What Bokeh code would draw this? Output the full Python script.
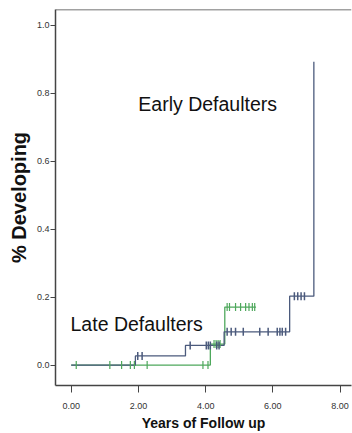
import numpy as np
from bokeh.plotting import figure
from bokeh.models import Span, Label, Title, FixedTicker, Range1d
from bokeh.embed import file_html
from bokeh.resources import INLINE

# Early defaulters (blue) step curve
blue_times = [0.0, 1.91, 3.40, 4.55, 6.50, 7.22]
blue_levels = [0.0, 0.027, 0.058, 0.098, 0.203, 0.893]
blue_censor = [1.98, 2.11, 3.54, 4.02, 4.08, 4.14, 4.33, 4.40,
               4.64, 4.76, 4.89, 5.12, 5.61, 5.86, 6.13, 6.21, 6.28, 6.38,
               6.64, 6.74, 6.84, 6.94]

# Late defaulters (green) step curve
green_times = [0.0, 4.14, 4.57, 5.50]
green_levels = [0.0, 0.062, 0.171, 0.171]
green_censor = [0.15, 1.15, 1.50, 1.76, 1.88, 2.26, 3.92, 4.07,
                4.25, 4.31, 4.37, 4.43,
                4.64, 4.71, 4.89, 5.04, 5.19, 5.29, 5.39, 5.46]

x_ticks = [0, 2, 4, 6, 8]
x_tick_labels = ["0.00", "2.00", "4.00", "6.00", "8.00"]
y_ticks = [0.0, 0.2, 0.4, 0.6, 0.8, 1.0]
y_tick_labels = ["0.0", "0.2", "0.4", "0.6", "0.8", "1.0"]

BLUE = "#4b5a7c"
GREEN = "#4ea85c"
FONT = "Liberation Sans"


def level_at(times, levels, t):
    idx = np.searchsorted(np.array(times), t, side="right") - 1
    return [levels[i] for i in idx]


p = figure(width=352, height=433, output_backend="svg", toolbar_location=None,
           x_range=Range1d(-0.467, 8.34), y_range=Range1d(-0.060, 1.047),
           min_border_left=55, min_border_right=1, min_border_top=9,
           min_border_bottom=45)
p.outline_line_color = None
p.grid.visible = False
p.background_fill_color = "white"
p.border_fill_color = "white"

p.step(green_times, green_levels, mode="after", line_color=GREEN, line_width=1.3)
p.step(blue_times, blue_levels, mode="after", line_color=BLUE, line_width=1.3)

p.scatter(green_censor, level_at(green_times, green_levels, green_censor),
          marker="dash", angle=np.pi / 2, size=8, line_color=GREEN, line_width=1.2)
p.scatter(blue_censor, level_at(blue_times, blue_levels, blue_censor),
          marker="dash", angle=np.pi / 2, size=8, line_color=BLUE, line_width=1.5)

p.add_layout(Span(location=1.047, dimension="width", line_color="#444444", line_width=1.5))

p.add_layout(Label(x=4.06, y=0.77, text="Early Defaulters", text_align="center",
                   text_baseline="middle", text_font=FONT, text_font_size="19.5px",
                   text_color="#111111"))
p.add_layout(Label(x=-0.02, y=0.121, text="Late Defaulters", text_align="left",
                   text_baseline="middle", text_font=FONT, text_font_size="19.5px",
                   text_color="#111111"))

# y-axis title, as a side title so it can sit slightly above the frame centre
p.add_layout(Title(text="% Developing", align="center", offset=36, standoff=7,
                   text_font=FONT, text_font_size="20px", text_font_style="bold",
                   text_color="#111111"), "left")

for ax in (p.xaxis[0], p.yaxis[0]):
    ax.axis_line_color = "#444444"
    ax.axis_line_width = 1.5
    ax.major_tick_line_color = "#444444"
    ax.minor_tick_line_color = None
    ax.major_tick_in = 0
    ax.major_label_text_font = FONT
    ax.major_label_text_font_size = "9px"
    ax.major_label_text_color = "#333333"
    ax.axis_label_text_font = FONT
    ax.axis_label_text_font_style = "bold"
    ax.axis_label_text_color = "#111111"

p.xaxis.ticker = FixedTicker(ticks=x_ticks)
p.xaxis.major_label_overrides = {t: l for t, l in zip(x_ticks, x_tick_labels)}
p.xaxis.major_tick_out = 7
p.xaxis.axis_label = "Years of Follow up"
p.xaxis.axis_label_text_font_size = "14px"
p.xaxis.major_label_standoff = 10
p.xaxis.axis_label_standoff = 3

p.yaxis.ticker = FixedTicker(ticks=y_ticks)
p.yaxis.major_label_overrides = {t: l for t, l in zip(y_ticks, y_tick_labels)}
p.yaxis.major_tick_out = 5
p.yaxis.major_label_standoff = 1

open("out.html", "w").write(file_html(p, INLINE))
